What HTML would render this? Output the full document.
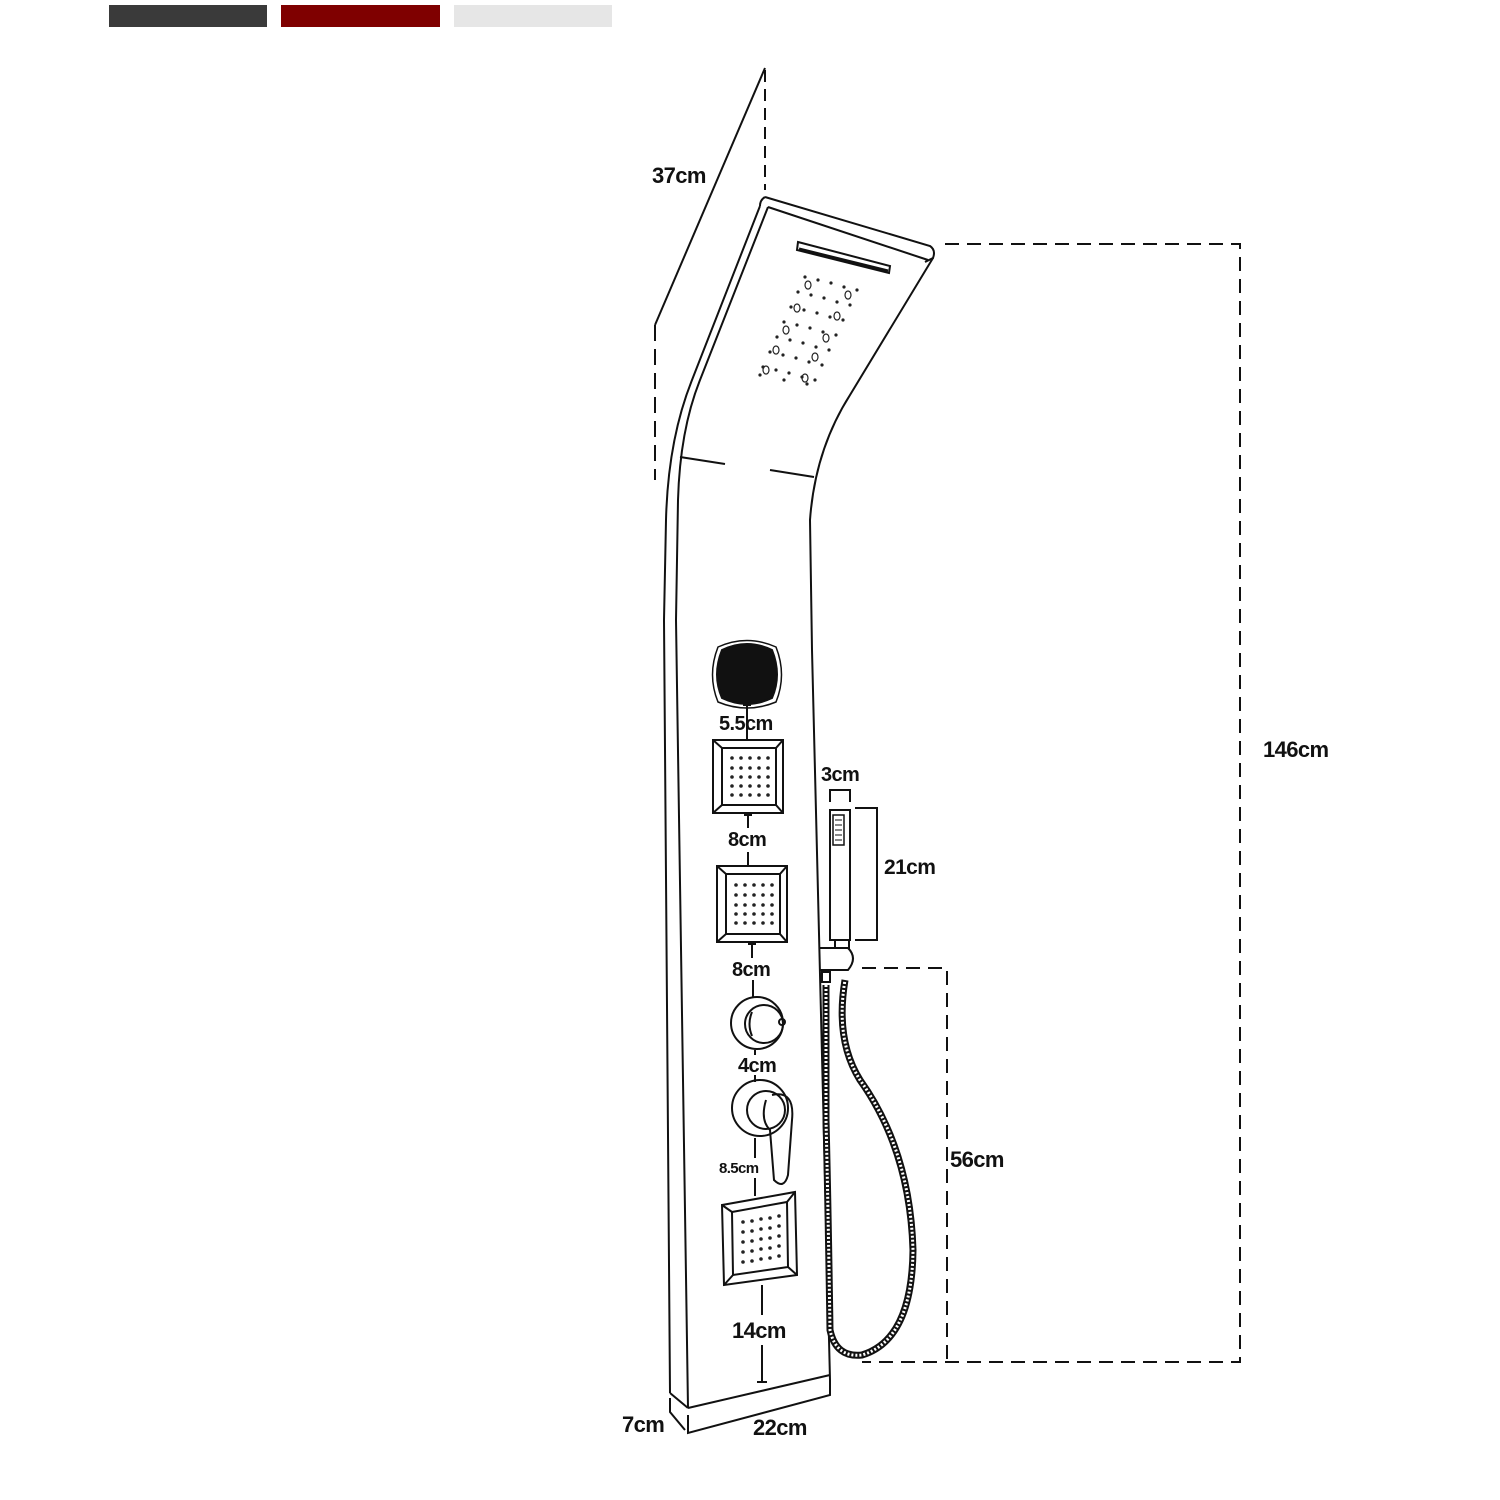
<!DOCTYPE html>
<html><head><style>
html,body{margin:0;padding:0;background:#fff;}
svg{display:block;}
text{font-family:"Liberation Sans",sans-serif;font-weight:bold;fill:#111;letter-spacing:-0.6px;}
</style></head><body>
<svg width="1500" height="1500" viewBox="0 0 1500 1500" xmlns="http://www.w3.org/2000/svg">
<rect x="109" y="5" width="158" height="22" fill="#3a3a3a"/>
<rect x="281" y="5" width="159" height="22" fill="#7f0000"/>
<rect x="454" y="5" width="158" height="22" fill="#e6e6e6"/>

<g fill="none" stroke="#111" stroke-width="2">
<line x1="765" y1="68" x2="655" y2="325"/>
<line x1="765" y1="70" x2="765" y2="190" stroke-dasharray="12,7"/>
<line x1="655" y1="325" x2="655" y2="480" stroke-dasharray="16,8"/>
<path d="M765 197 L930 246 Q936 250 933 258 L925 262"/>
<path d="M768 207 L928 260"/>
<path d="M765 197 Q760 200 760 206"/>
<path d="M933 258 L850 395 Q815 450 810 520 L812 650 L830 1380"/>
<path d="M768 207 L700 380 Q680 430 678 500 L676 620 L688 1408"/>
<path d="M760 206 L692 380 Q668 440 666 520 L664 620 L670 1393"/>
<path d="M688 1408 L830 1375"/>
<path d="M670 1393 L688 1408"/>
<path d="M680 457 L725 464"/>
<path d="M770 470 L814 477"/>
<path d="M798 242 L890 266 L889 273 L797 250 Z"/>
<path d="M799 249 L888 271" stroke-width="3"/>
<path d="M670 1398 L670 1412 L685 1430"/>
<path d="M688 1415 L688 1433 L830 1395 L830 1380"/>
</g>

<path d="M722 650 Q747 638 772 650 Q782 675 772 698 Q747 710 722 698 Q712 675 722 650Z" fill="#111" stroke="#111" stroke-width="2"/>
<path d="M718 647 Q747 634 776 647 Q787 675 776 702 Q747 714 718 702 Q707 675 718 647Z" fill="none" stroke="#111" stroke-width="1.5"/>

<g fill="none" stroke="#111" stroke-width="2">
<rect x="713" y="740" width="70" height="73"/>
<rect x="722" y="748" width="54" height="57"/>
<line x1="713" y1="740" x2="722" y2="748"/><line x1="783" y1="740" x2="776" y2="748"/>
<line x1="713" y1="813" x2="722" y2="805"/><line x1="783" y1="813" x2="776" y2="805"/>
<rect x="717" y="866" width="70" height="76"/>
<rect x="726" y="874" width="54" height="60"/>
<line x1="717" y1="866" x2="726" y2="874"/><line x1="787" y1="866" x2="780" y2="874"/>
<line x1="717" y1="942" x2="726" y2="934"/><line x1="787" y1="942" x2="780" y2="934"/>
<path d="M722 1205 L795 1192 L797 1275 L724 1285 Z"/>
<path d="M732 1212 L787 1202 L788 1267 L733 1275 Z"/>
<line x1="722" y1="1205" x2="732" y2="1212"/><line x1="795" y1="1192" x2="787" y2="1202"/>
<line x1="724" y1="1285" x2="733" y2="1275"/><line x1="797" y1="1275" x2="788" y2="1267"/>
<circle cx="757" cy="1023" r="26"/>
<circle cx="764" cy="1024" r="19"/>
<path d="M752 1012 Q747 1024 752 1036"/>
<circle cx="782" cy="1022" r="3"/>
<circle cx="760" cy="1108" r="28"/>
<circle cx="766" cy="1110" r="19"/>
<path d="M772 1095 Q795 1090 792 1120 L788 1175 Q784 1190 774 1180 L770 1130 Q760 1120 766 1100"/>
<line x1="747" y1="705" x2="747" y2="740"/><line x1="743" y1="705" x2="751" y2="705"/>
<line x1="748" y1="815" x2="748" y2="828"/><line x1="744" y1="815" x2="752" y2="815"/>
<line x1="748" y1="852" x2="748" y2="866"/><line x1="744" y1="866" x2="752" y2="866"/>
<line x1="752" y1="944" x2="752" y2="958"/><line x1="748" y1="944" x2="756" y2="944"/>
<line x1="753" y1="980" x2="753" y2="997"/>
<line x1="755" y1="1050" x2="755" y2="1055"/><line x1="755" y1="1075" x2="755" y2="1082"/>
<line x1="755" y1="1138" x2="755" y2="1158"/><line x1="755" y1="1178" x2="755" y2="1196"/>
<line x1="762" y1="1285" x2="762" y2="1315"/><line x1="762" y1="1345" x2="762" y2="1382"/><line x1="757" y1="1382" x2="767" y2="1382"/>
<rect x="830" y="810" width="20" height="130"/>
<rect x="833" y="815" width="11" height="30" stroke-width="1.5"/>
<path d="M835 820 H842 M835 825 H842 M835 830 H842 M835 835 H842 M835 840 H842" stroke-width="1"/>
<rect x="835" y="940" width="14" height="8"/>
<path d="M820 948 L848 948 Q858 958 848 970 L820 970"/>
<rect x="822" y="972" width="8" height="10"/>
<path d="M830 802 L830 790 L850 790 L850 802"/>
<path d="M855 808 L877 808 L877 940 L855 940"/>
<path d="M945 244 L1240 244 L1240 1362 L862 1362" stroke-dasharray="14,8"/>
<path d="M862 968 L947 968 L947 1362" stroke-dasharray="14,8"/>
</g>
<path d="M826 985 L826 1120 Q828 1200 830 1330 Q836 1358 862 1355 Q912 1340 913 1250 Q910 1150 860 1080 Q835 1040 845 980" fill="none" stroke="#111" stroke-width="7"/>
<path d="M826 985 L826 1120 Q828 1200 830 1330 Q836 1358 862 1355 Q912 1340 913 1250 Q910 1150 860 1080 Q835 1040 845 980" fill="none" stroke="#fff" stroke-width="3" stroke-dasharray="2,2"/>

<g fill="#222">
<circle cx="732" cy="758" r="1.8"/><circle cx="741" cy="758" r="1.8"/><circle cx="750" cy="758" r="1.8"/><circle cx="759" cy="758" r="1.8"/><circle cx="768" cy="758" r="1.8"/>
<circle cx="732" cy="768" r="1.8"/><circle cx="741" cy="768" r="1.8"/><circle cx="750" cy="768" r="1.8"/><circle cx="759" cy="768" r="1.8"/><circle cx="768" cy="768" r="1.8"/>
<circle cx="732" cy="777" r="1.8"/><circle cx="741" cy="777" r="1.8"/><circle cx="750" cy="777" r="1.8"/><circle cx="759" cy="777" r="1.8"/><circle cx="768" cy="777" r="1.8"/>
<circle cx="732" cy="786" r="1.8"/><circle cx="741" cy="786" r="1.8"/><circle cx="750" cy="786" r="1.8"/><circle cx="759" cy="786" r="1.8"/><circle cx="768" cy="786" r="1.8"/>
<circle cx="732" cy="795" r="1.8"/><circle cx="741" cy="795" r="1.8"/><circle cx="750" cy="795" r="1.8"/><circle cx="759" cy="795" r="1.8"/><circle cx="768" cy="795" r="1.8"/>
<circle cx="736" cy="885" r="1.8"/><circle cx="745" cy="885" r="1.8"/><circle cx="754" cy="885" r="1.8"/><circle cx="763" cy="885" r="1.8"/><circle cx="772" cy="885" r="1.8"/>
<circle cx="736" cy="895" r="1.8"/><circle cx="745" cy="895" r="1.8"/><circle cx="754" cy="895" r="1.8"/><circle cx="763" cy="895" r="1.8"/><circle cx="772" cy="895" r="1.8"/>
<circle cx="736" cy="905" r="1.8"/><circle cx="745" cy="905" r="1.8"/><circle cx="754" cy="905" r="1.8"/><circle cx="763" cy="905" r="1.8"/><circle cx="772" cy="905" r="1.8"/>
<circle cx="736" cy="914" r="1.8"/><circle cx="745" cy="914" r="1.8"/><circle cx="754" cy="914" r="1.8"/><circle cx="763" cy="914" r="1.8"/><circle cx="772" cy="914" r="1.8"/>
<circle cx="736" cy="923" r="1.8"/><circle cx="745" cy="923" r="1.8"/><circle cx="754" cy="923" r="1.8"/><circle cx="763" cy="923" r="1.8"/><circle cx="772" cy="923" r="1.8"/>
<circle cx="743" cy="1222" r="1.8"/><circle cx="752" cy="1221" r="1.8"/><circle cx="761" cy="1219" r="1.8"/><circle cx="770" cy="1218" r="1.8"/><circle cx="779" cy="1216" r="1.8"/>
<circle cx="743" cy="1232" r="1.8"/><circle cx="752" cy="1231" r="1.8"/><circle cx="761" cy="1229" r="1.8"/><circle cx="770" cy="1228" r="1.8"/><circle cx="779" cy="1226" r="1.8"/>
<circle cx="743" cy="1242" r="1.8"/><circle cx="752" cy="1241" r="1.8"/><circle cx="761" cy="1239" r="1.8"/><circle cx="770" cy="1238" r="1.8"/><circle cx="779" cy="1236" r="1.8"/>
<circle cx="743" cy="1252" r="1.8"/><circle cx="752" cy="1251" r="1.8"/><circle cx="761" cy="1249" r="1.8"/><circle cx="770" cy="1248" r="1.8"/><circle cx="779" cy="1246" r="1.8"/>
<circle cx="743" cy="1262" r="1.8"/><circle cx="752" cy="1261" r="1.8"/><circle cx="761" cy="1259" r="1.8"/><circle cx="770" cy="1258" r="1.8"/><circle cx="779" cy="1256" r="1.8"/>
</g>
<g fill="#222">
<circle cx="805" cy="277" r="1.6"/><circle cx="818" cy="280" r="1.6"/><circle cx="831" cy="283" r="1.6"/><circle cx="844" cy="287" r="1.6"/><circle cx="857" cy="290" r="1.6"/>
<circle cx="798" cy="292" r="1.6"/><circle cx="811" cy="295" r="1.6"/><circle cx="824" cy="298" r="1.6"/><circle cx="837" cy="302" r="1.6"/><circle cx="850" cy="305" r="1.6"/>
<circle cx="791" cy="307" r="1.6"/><circle cx="804" cy="310" r="1.6"/><circle cx="817" cy="313" r="1.6"/><circle cx="830" cy="317" r="1.6"/><circle cx="843" cy="320" r="1.6"/>
<circle cx="784" cy="322" r="1.6"/><circle cx="797" cy="325" r="1.6"/><circle cx="810" cy="328" r="1.6"/><circle cx="823" cy="332" r="1.6"/><circle cx="836" cy="335" r="1.6"/>
<circle cx="777" cy="337" r="1.6"/><circle cx="790" cy="340" r="1.6"/><circle cx="803" cy="343" r="1.6"/><circle cx="816" cy="347" r="1.6"/><circle cx="829" cy="350" r="1.6"/>
<circle cx="770" cy="352" r="1.6"/><circle cx="783" cy="355" r="1.6"/><circle cx="796" cy="358" r="1.6"/><circle cx="809" cy="362" r="1.6"/><circle cx="822" cy="365" r="1.6"/>
<circle cx="763" cy="367" r="1.6"/><circle cx="776" cy="370" r="1.6"/><circle cx="789" cy="373" r="1.6"/><circle cx="802" cy="377" r="1.6"/><circle cx="815" cy="380" r="1.6"/>
<circle cx="760" cy="375" r="1.6"/><circle cx="784" cy="380" r="1.6"/><circle cx="807" cy="384" r="1.6"/>
</g>
<g fill="none" stroke="#222" stroke-width="1.2">
<ellipse cx="808" cy="285" rx="3" ry="4"/><ellipse cx="848" cy="295" rx="3" ry="4"/>
<ellipse cx="797" cy="308" rx="3" ry="4"/><ellipse cx="837" cy="316" rx="3" ry="4"/>
<ellipse cx="786" cy="330" rx="3" ry="4"/><ellipse cx="826" cy="338" rx="3" ry="4"/>
<ellipse cx="776" cy="350" rx="3" ry="4"/><ellipse cx="815" cy="357" rx="3" ry="4"/>
<ellipse cx="766" cy="370" rx="3" ry="4"/><ellipse cx="805" cy="378" rx="3" ry="4"/>
</g>

<text x="652" y="183" font-size="22">37cm</text>
<text x="719" y="730" font-size="20">5.5cm</text>
<text x="728" y="846" font-size="20">8cm</text>
<text x="732" y="976" font-size="20">8cm</text>
<text x="738" y="1072" font-size="20">4cm</text>
<text x="719" y="1173" font-size="15">8.5cm</text>
<text x="732" y="1338" font-size="22">14cm</text>
<text x="622" y="1432" font-size="22">7cm</text>
<text x="753" y="1435" font-size="22">22cm</text>
<text x="821" y="781" font-size="20">3cm</text>
<text x="884" y="874" font-size="21">21cm</text>
<text x="950" y="1167" font-size="22">56cm</text>
<text x="1263" y="757" font-size="22">146cm</text>
</svg>
</body></html>
